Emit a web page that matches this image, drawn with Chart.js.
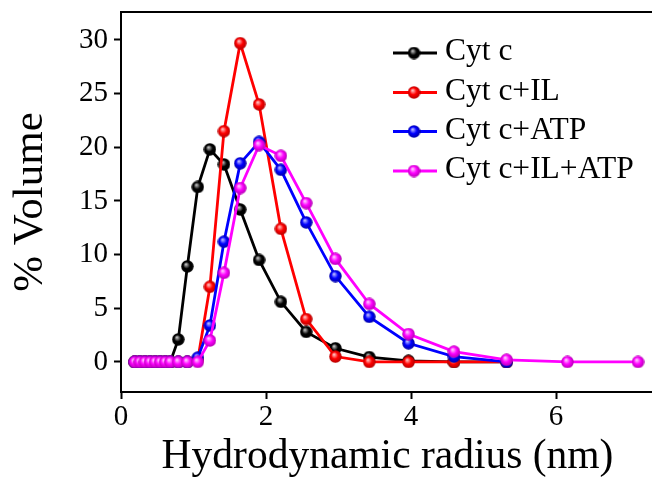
<!DOCTYPE html>
<html><head><meta charset="utf-8">
<script src="https://cdn.jsdelivr.net/npm/chart.js@4"></script>
<style>html,body{margin:0;padding:0;background:#fff;overflow:hidden}#wrap{width:652px;height:482px;overflow:hidden;position:relative;background:#fff}</style>
</head><body><div id="wrap"><canvas id="c" width="672" height="482" style="width:672px;height:482px;display:block"></canvas></div>
<script>
// Hydrodynamic radius (nm) of each size bin
const radius = [0.19,0.26,0.33,0.40,0.47,0.54,0.61,0.68,0.79,0.915,1.059,1.226,1.42,1.644,1.904,2.205,2.554,2.957,3.424,3.965,4.592,5.317,6.157,7.13];
const seriesNames = ['Cyt c','Cyt c+IL','Cyt c+ATP','Cyt c+IL+ATP'];
// % Volume values
const cytC      = [0,0,0,0,0,0,0,0,2.1,8.9,16.3,19.8,18.4,14.2,9.5,5.6,2.8,1.27,0.45,0.1,0,0];
const cytCIL    = [0,0,0,0,0,0,0,0,0,0,0.2,7.0,21.5,29.7,24.0,12.4,4.0,0.5,0,0,0,0];
const cytCATP   = [0,0,0,0,0,0,0,0,0,0,0.4,3.4,11.2,18.5,20.5,17.9,13.0,8.0,4.2,1.74,0.5,0];
const cytCILATP = [0,0,0,0,0,0,0,0,0,0,0,2.0,8.3,16.2,20.2,19.2,14.8,9.6,5.4,2.6,0.96,0.2,0,0];
const xTicks = [0,2,4,6];
const yTicks = [0,5,10,15,20,25,30];

const colors = ['#000000','#ff0000','#0000ff','#ff00ff'];
const lights = ['#c8c8c8','#ffc8c8','#c0c0ff','#ffd0ff'];
const darks  = ['#000000','#b00000','#0000a0','#b000b0'];
const FONT = "'Liberation Serif','Times New Roman',serif";

function ball(color, light, dark){
  const s = 13, c = document.createElement('canvas');
  c.width = s; c.height = s;
  const g = c.getContext('2d');
  const grd = g.createRadialGradient(s/2-1.5, s/2-2.2, 0.3, s/2, s/2, s/2);
  grd.addColorStop(0, light);
  grd.addColorStop(0.5, color);
  grd.addColorStop(1, dark);
  g.fillStyle = grd;
  g.beginPath(); g.arc(s/2, s/2, s/2-0.3, 0, Math.PI*2); g.fill();
  return c;
}
const balls = colors.map((c,i)=>ball(c, lights[i], darks[i]));
const allSeries = [cytC, cytCIL, cytCATP, cytCILATP];
const orders = [4,3,2,1];

const datasets = allSeries.map((vals,i)=>({
  label: seriesNames[i],
  data: vals.map((v,j)=>({x: radius[j], y: v})),
  borderColor: colors[i],
  backgroundColor: colors[i],
  borderWidth: 2.8,
  pointStyle: balls[i],
  pointRadius: 6,
  tension: 0,
  order: orders[i]
}));

const framePlugin = {
  id: 'frameLegend',
  afterDraw(chart){
    const ctx = chart.ctx, a = chart.chartArea;
    ctx.save();
    // keep the right side open (no right frame line), as in the reference
    ctx.fillStyle = '#fff';
    ctx.fillRect(645, a.top + 2, chart.width - 645, a.bottom - a.top - 4);
    ctx.strokeStyle = '#000'; ctx.lineWidth = 2;
    ctx.beginPath(); ctx.moveTo(a.left-1, a.top); ctx.lineTo(a.right, a.top); ctx.stroke();
    // legend
    const rows = [53, 92.5, 131.5, 171];
    ctx.font = '31.5px ' + FONT;
    ctx.textBaseline = 'middle'; ctx.textAlign = 'left';
    seriesNames.forEach((name,i)=>{
      const y = rows[i];
      ctx.strokeStyle = colors[i]; ctx.lineWidth = 2.8;
      ctx.beginPath(); ctx.moveTo(393, y); ctx.lineTo(437, y); ctx.stroke();
      ctx.drawImage(balls[i], 414 - balls[i].width/2, y - balls[i].height/2);
      ctx.fillStyle = '#000';
      ctx.fillText(name, 445, y - 1);
    });
    ctx.restore();
  }
};

new Chart(document.getElementById('c'), {
  type: 'line',
  data: {datasets},
  options: {
    responsive: false, animation: false, devicePixelRatio: 1,
    layout: {autoPadding: false, padding: {top: 12, right: 18, left: 0, bottom: 0}},
    plugins: {legend: {display: false}, tooltip: {enabled: false}},
    scales: {
      x: {
        type: 'linear', min: 0, max: 7.35,
        afterBuildTicks: s => { s.ticks = xTicks.map(v => ({value: v})); },
        afterFit: s => { s.height = 90; },
        ticks: {font: {family: FONT, size: 29, lineHeight: 1.2}, color: '#000', padding: 1, maxRotation: 0, autoSkip: false},
        grid: {display: true, drawOnChartArea: false, drawTicks: true, tickLength: 7, tickWidth: 2, tickColor: '#000'},
        border: {display: true, width: 2, color: '#000'},
        title: {display: true, text: 'Hydrodynamic radius (nm)', color: '#000',
                font: {family: FONT, size: 41.5, lineHeight: 1}, padding: {top: 0, bottom: 4}}
      },
      y: {
        type: 'linear', min: -2.8, max: 32.6,
        afterBuildTicks: s => { s.ticks = yTicks.map(v => ({value: v})); },
        afterFit: s => { s.width = 121; },
        ticks: {font: {family: FONT, size: 29, lineHeight: 0.4}, color: '#000', padding: 6, autoSkip: false},
        grid: {display: true, drawOnChartArea: false, drawTicks: true, tickLength: 7, tickWidth: 2, tickColor: '#000'},
        border: {display: true, width: 2, color: '#000'},
        title: {display: true, text: '% Volume', color: '#000',
                font: {family: FONT, size: 43, lineHeight: 1}, padding: {top: 9, bottom: 0}}
      }
    }
  },
  plugins: [framePlugin]
});
</script></body></html>
